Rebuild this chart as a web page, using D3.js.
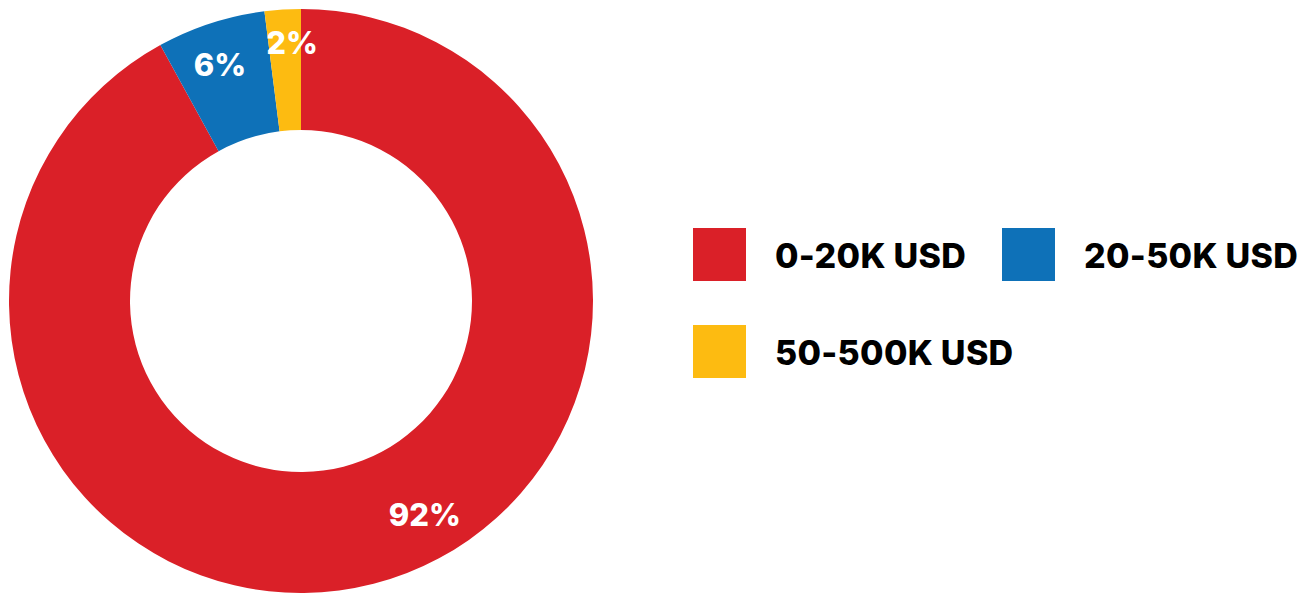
<!DOCTYPE html>
<html>
<head>
<meta charset="utf-8">
<script src="https://cdn.jsdelivr.net/npm/d3@7"></script>
<style>
  body { margin: 0; background: #fff; }
  svg { display: block; }
  text { font-family: Inter, "Noto Sans", sans-serif; font-weight: 800; }
</style>
</head>
<body>
<svg id="svg1" width="1315" height="593"></svg>
<script>
var categories = ["0-20K USD", "20-50K USD", "50-500K USD"];
var values = [92, 6, 2];
var colors = ["#DA2028", "#0E71B8", "#FDBB11"];
// label nudges (degrees) and radii, the source puts labels off-centre
var labelShift = [-15.7, -0.9, 1.6];
var labelRadius = [247, 250, 258];

var width = 1315, height = 593;
var cx = 301, cy = 301;
var outerR = 292, innerR = 171;

var svg = d3.select("#svg1");

var pie = d3.pie().sort(null).value(function(d) { return d; });
var arcs = pie(values);

var arc = d3.arc().innerRadius(innerR).outerRadius(outerR);

var g = svg.append("g")
    .attr("transform", "translate(" + cx + "," + cy + ")");

g.selectAll(".slice")
    .data(arcs)
    .enter()
    .append("path")
      .attr("class", "slice")
      .attr("d", arc)
      .attr("fill", function(d, i) { return colors[i]; });

g.selectAll(".pct")
    .data(arcs)
    .enter()
    .append("text")
      .attr("class", "pct")
      .attr("transform", function(d, i) {
        var a = (d.startAngle + d.endAngle) / 2 + labelShift[i] * Math.PI / 180;
        var r = labelRadius[i];
        return "translate(" + (Math.sin(a) * r) + "," + (-Math.cos(a) * r) + ")";
      })
      .attr("text-anchor", "middle")
      .attr("dy", "0.36em")
      .attr("fill", "#fff")
      .attr("font-size", 31)
      .text(function(d) { return d.data + "%"; });

// legend, two columns
var legendX = d3.scaleOrdinal().domain([0, 1]).range([693, 1002]);
var legendY = d3.scaleOrdinal().domain([0, 1]).range([228, 325]);

var item = svg.selectAll(".legend")
    .data(categories)
    .enter()
    .append("g")
      .attr("class", "legend")
      .attr("transform", function(d, i) {
        return "translate(" + legendX(i % 2) + "," + legendY(Math.floor(i / 2)) + ")";
      });

item.append("rect")
    .attr("width", 53)
    .attr("height", 53)
    .attr("fill", function(d, i) { return colors[i]; });

item.append("text")
    .attr("x", 82)
    .attr("y", 40)
    .attr("font-size", 34)
    .attr("letter-spacing", 0.3)
    .attr("fill", "#000")
    .text(function(d) { return d; });
</script>
</body>
</html>
